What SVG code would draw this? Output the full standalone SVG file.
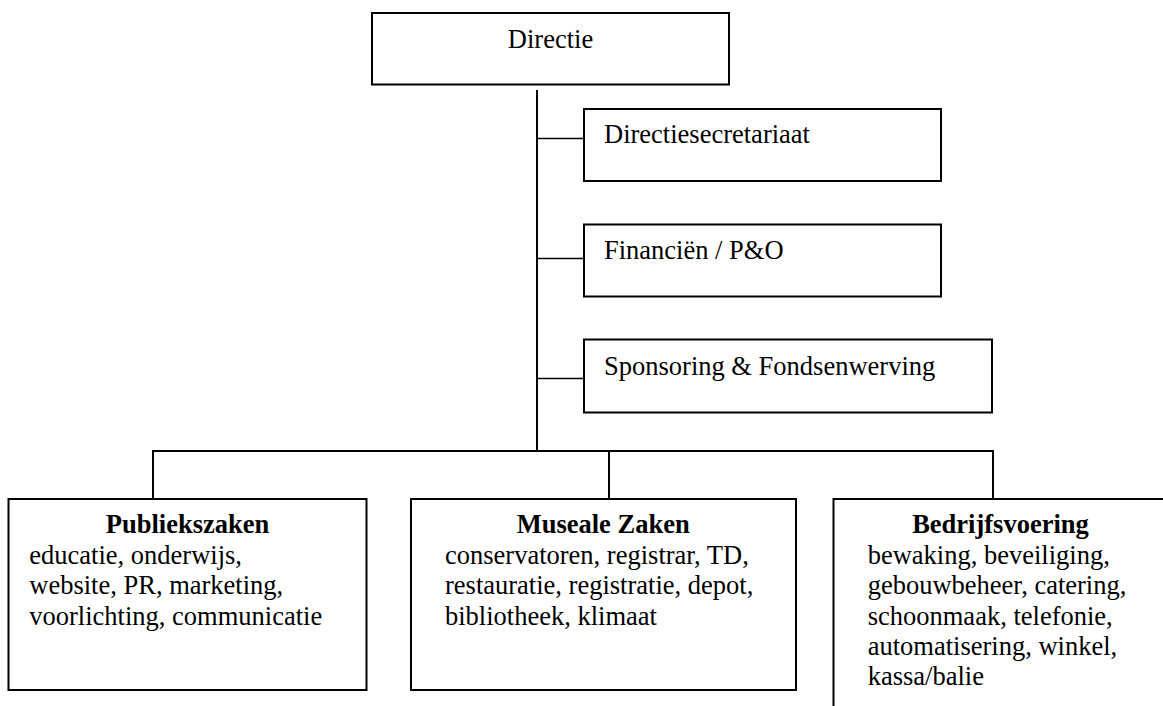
<svg xmlns="http://www.w3.org/2000/svg" width="1163" height="706" viewBox="0 0 1163 706">
<style>
.box{fill:#fff;stroke:#000;stroke-width:2}
.ln{fill:none;stroke:#000;stroke-width:2}
.br{fill:none;stroke:#000;stroke-width:1.5}
text{font-family:"Liberation Serif","Times New Roman",serif;font-size:26.5px;fill:#000}
.b{font-weight:bold}
.c{text-anchor:middle}
</style>
<rect width="1163" height="706" fill="#fff"/>
<g id="connectors">
<line class="ln" x1="537" y1="90" x2="537" y2="451"/>
<line class="br" x1="537" y1="138.5" x2="584" y2="138.5"/>
<line class="br" x1="537" y1="258.5" x2="584" y2="258.5"/>
<line class="br" x1="537" y1="378.5" x2="584" y2="378.5"/>
<polyline class="ln" points="153,499 153,451 993,451 993,499"/>
<line class="ln" x1="609" y1="451" x2="609" y2="499"/>
</g>
<g id="directie">
<rect class="box" x="372" y="13" width="357" height="71.5"/>
<text class="c" x="550.5" y="48">Directie</text>
</g>
<g id="directiesecretariaat">
<rect class="box" x="584" y="109" width="357" height="72"/>
<text x="604" y="143">Directiesecretariaat</text>
</g>
<g id="financien">
<rect class="box" x="584" y="224.5" width="357" height="72"/>
<text x="604" y="259">Financiën / P&amp;O</text>
</g>
<g id="sponsoring">
<rect class="box" x="584" y="339.5" width="408" height="73"/>
<text x="604" y="375">Sponsoring &amp; Fondsenwerving</text>
</g>
<g id="publiekszaken">
<rect class="box" x="8.5" y="499" width="358" height="191"/>
<text class="c b" x="187.5" y="533.3">Publiekszaken</text>
<text x="29.3" y="563.7">educatie, onderwijs,</text>
<text x="29.3" y="594.1">website, PR, marketing,</text>
<text x="29.3" y="624.5">voorlichting, communicatie</text>
</g>
<g id="museale-zaken">
<rect class="box" x="411" y="499" width="385" height="191"/>
<text class="c b" x="603.2" y="533.3">Museale Zaken</text>
<text x="445" y="563.7">conservatoren, registrar, TD,</text>
<text x="445" y="594.1">restauratie, registratie, depot,</text>
<text x="445" y="624.5">bibliotheek, klimaat</text>
</g>
<g id="bedrijfsvoering">
<rect class="box" x="833.5" y="499" width="334" height="220"/>
<text class="c b" x="1000.5" y="533.3">Bedrijfsvoering</text>
<text x="867.7" y="563.7">bewaking, beveiliging,</text>
<text x="867.7" y="594.1">gebouwbeheer, catering,</text>
<text x="867.7" y="624.5">schoonmaak, telefonie,</text>
<text x="867.7" y="654.9">automatisering, winkel,</text>
<text x="867.7" y="685.3">kassa/balie</text>
</g>
</svg>
